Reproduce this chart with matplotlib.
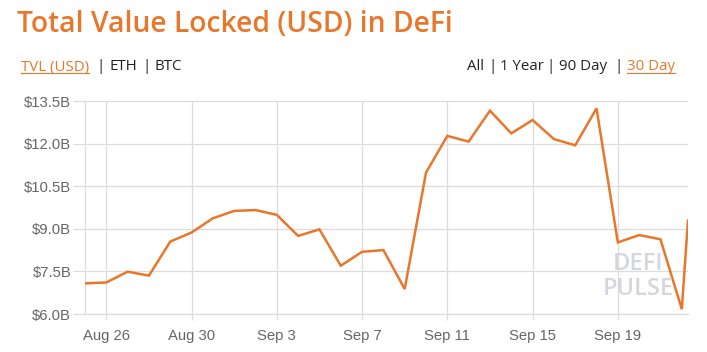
import matplotlib
matplotlib.use("Agg")
import matplotlib.pyplot as plt
import pandas as pd

# ---- data ----
dates = pd.date_range("2020-08-25", "2020-09-22", freq="D").tolist() + [pd.Timestamp("2020-09-22 07:00")]
tvl_billion = [7.08, 7.11, 7.49, 7.35, 8.55, 8.87, 9.37, 9.63, 9.66, 9.49,
               8.75, 8.98, 7.70, 8.19, 8.25, 6.88, 10.98, 12.27, 12.07, 13.16,
               12.36, 12.83, 12.16, 11.94, 13.24, 8.52, 8.78, 8.63, 6.17, 9.29]
y_ticks = [6.0, 7.5, 9.0, 10.5, 12.0, 13.5]
y_tick_labels = ["$6.0B", "$7.5B", "$9.0B", "$10.5B", "$12.0B", "$13.5B"]
x_tick_dates = ["2020-08-26", "2020-08-30", "2020-09-03", "2020-09-07",
                "2020-09-11", "2020-09-15", "2020-09-19"]
x_tick_labels = ["Aug 26", "Aug 30", "Sep 3", "Sep 7", "Sep 11", "Sep 15", "Sep 19"]
left_header = ["TVL (USD)", "|", "ETH", "|", "BTC"]
right_header = ["All", "|", "1 Year", "|", "90 Day", "|", "30 Day"]

ORANGE = "#E8772B"
GRID = "#DCDCDC"
TICKC = "#666666"
DARK = "#222222"

W, H = 707, 352
fig = plt.figure(figsize=(W / 100, H / 100), dpi=100)
fig.patch.set_facecolor("white")

ax = fig.add_axes([85 / W, 1 - 314 / H, (688 - 85) / W, (314 - 101) / H])
ax.plot(dates, tvl_billion, color=ORANGE, lw=1.8, solid_joinstyle="miter", zorder=3)
ax.set_xlim(dates[0], dates[-1])
ax.set_ylim(6.0, 13.5)

ax.set_yticks(y_ticks)
ax.set_yticklabels(y_tick_labels)
ax.set_xticks([pd.Timestamp(d) for d in x_tick_dates])
ax.set_xticklabels(x_tick_labels)

for s in ["top", "right"]:
    ax.spines[s].set_visible(False)
for s in ["left", "bottom"]:
    ax.spines[s].set_color(GRID)
    ax.spines[s].set_linewidth(0.9)
ax.grid(True, color=GRID, lw=0.9, zorder=0)
ax.set_axisbelow(True)
ax.tick_params(axis="y", length=9, color=GRID, width=0.9, pad=1,
               labelsize=10.7, labelcolor=TICKC)
ax.tick_params(axis="x", length=4, color=GRID, width=0.9, pad=7,
               labelsize=10.7, labelcolor=TICKC)
for lab in ax.get_xticklabels() + ax.get_yticklabels():
    lab.set_fontfamily(["Liberation Sans", "DejaVu Sans"])

# watermark
for txt, yy in [("DEFI", 1 - 264 / H), ("PULSE", 1 - 289 / H)]:
    fig.text(638 / W, yy, txt, ha="center", va="center", fontsize=17,
             fontweight="semibold", color="#d5d5de", family="Open Sans", zorder=2)

# title
fig.text(17 / W, 1 - 25 / H, "Total Value Locked (USD) in DeFi", ha="left", va="center",
         fontsize=20.3, fontweight="semibold", color=ORANGE, family="Open Sans")

# header links
y_hdr = 1 - 67 / H
left_x = [21, 101, 110, 146, 154]
right_x = [467, 493, 500, 551, 559, 618, 627]


def header(words, xs, active):
    for w, x in zip(words, xs):
        c = ORANGE if w == active else DARK
        ha = "center" if w == "|" else "left"
        t = fig.text(x / W, y_hdr, w, ha=ha, va="center", fontsize=10.8,
                     color=c, family="Open Sans")
        if w == active:
            fig.canvas.draw()
            bb = t.get_window_extent()
            fig.add_artist(plt.Line2D([bb.x0 / W, bb.x1 / W], [(bb.y0 + 1.5) / H] * 2,
                                      color=ORANGE, lw=0.8))


header(left_header, left_x, "TVL (USD)")
header(right_header, right_x, "30 Day")

fig.savefig("out.png", dpi=100, facecolor="white")
